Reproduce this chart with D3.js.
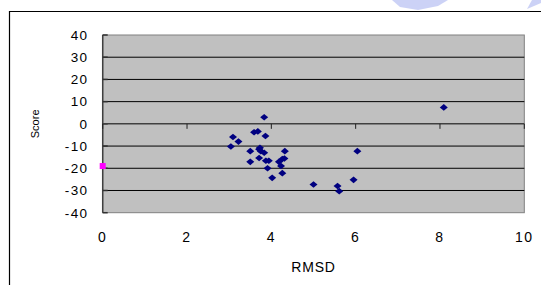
<!DOCTYPE html>
<html>
<head>
<meta charset="utf-8">
<script src="https://cdn.jsdelivr.net/npm/d3@7"></script>
<style>
  body { margin: 0; background: #fff; }
  text { font-family: "Liberation Sans", Arial, sans-serif; fill: #000; }
</style>
</head>
<body>
<div id="chart"></div>
<script>
// values
const rmsd = [3.83, 3.59, 3.68, 3.86, 3.09, 3.22, 3.04, 3.50, 3.71, 3.75,
              3.83, 3.71, 3.50, 3.87, 3.94, 4.32, 4.31, 4.26, 4.18, 4.23,
              3.91, 4.26, 4.02, 5.00, 5.57, 5.61, 5.95, 6.04, 8.09, 3.73];
const score = [3.0, -3.8, -3.4, -5.5, -5.9, -8.0, -10.2, -12.3, -11.4, -12.3,
               -13.0, -15.4, -17.1, -16.6, -16.6, -12.3, -15.6, -15.8, -17.1, -19.0,
               -20.0, -22.2, -24.3, -27.3, -28.0, -30.3, -25.2, -12.3, 7.4, -10.8];
const refX = [0];
const refY = [-19];
const xTicks = [0, 2, 4, 6, 8, 10];
const yTicks = [40, 30, 20, 10, 0, -10, -20, -30, -40];

const w = 541, h = 285;
const plotLeft = 102.7, plotRight = 524.3, plotTop = 35, plotBottom = 212.7;

const svg = d3.select('#chart').append('svg')
  .attr('width', w)
  .attr('height', h);

// outer chart frame (runs off the picture right and bottom)
svg.append('path')
  .attr('d', 'M9.5,' + (h + 5) + 'V11.5H' + (w + 5))
  .attr('fill', 'none')
  .attr('stroke', '#000')
  .attr('stroke-width', 1.2);

// faint watermark remnants at the top right
svg.append('path')
  .attr('d', 'M392,0 L400,7 L418,10 L438,6 L448,0 Z')
  .attr('fill', '#9aa6ee').attr('opacity', 0.5);
svg.append('path')
  .attr('d', 'M527,9 L541,3 L541,0 L532,0 Z')
  .attr('fill', '#9aa6ee').attr('opacity', 0.5);

const x = d3.scaleLinear().domain([0, 10]).range([plotLeft, plotRight]);
const y = d3.scaleLinear().domain([-40, 40]).range([plotBottom, plotTop]);

svg.append('rect')
  .attr('x', plotLeft).attr('y', plotTop)
  .attr('width', plotRight - plotLeft).attr('height', plotBottom - plotTop)
  .attr('fill', '#c0c0c0')
  .attr('stroke', '#808080')
  .attr('stroke-width', 1);

// horizontal gridlines
svg.selectAll('.grid')
  .data(yTicks.filter(d => d !== 40 && d !== -40 && d !== 0))
  .enter().append('line')
  .attr('x1', plotLeft).attr('x2', plotRight)
  .attr('y1', d => y(d)).attr('y2', d => y(d))
  .attr('stroke', '#000').attr('stroke-width', 1);

// y axis line and ticks
svg.append('line')
  .attr('x1', plotLeft).attr('x2', plotLeft).attr('y1', plotTop).attr('y2', plotBottom)
  .attr('stroke', '#404040').attr('stroke-width', 1.5);
svg.selectAll('.ytick')
  .data(yTicks)
  .enter().append('line')
  .attr('x1', plotLeft).attr('x2', plotLeft + 5)
  .attr('y1', d => y(d)).attr('y2', d => y(d))
  .attr('stroke', '#303030').attr('stroke-width', 1.5);

// x axis sits at score 0
svg.append('line')
  .attr('x1', plotLeft).attr('x2', plotRight).attr('y1', y(0)).attr('y2', y(0))
  .attr('stroke', '#404040').attr('stroke-width', 1.5);
svg.selectAll('.xtick')
  .data(xTicks)
  .enter().append('line')
  .attr('x1', d => x(d)).attr('x2', d => x(d))
  .attr('y1', y(0)).attr('y2', y(0) + 5)
  .attr('stroke', '#202020').attr('stroke-width', 1);

// tick labels
svg.selectAll('.ylab')
  .data(yTicks)
  .enter().append('text')
  .attr('x', 88.5).attr('y', d => y(d) + 4.8)
  .attr('text-anchor', 'end')
  .style('font-size', '13.5px')
  .style('letter-spacing', '1.4px')
  .text(d => d);

svg.selectAll('.xlab')
  .data(xTicks)
  .enter().append('text')
  .attr('x', d => x(d)).attr('y', 241.5)
  .attr('text-anchor', 'middle')
  .style('font-size', '14px')
  .style('letter-spacing', '1.5px')
  .text(d => d);

svg.append('text')
  .attr('x', (plotLeft + plotRight) / 2).attr('y', 271.5)
  .attr('text-anchor', 'middle')
  .style('font-size', '14px')
  .style('letter-spacing', '0.8px')
  .text('RMSD');

svg.append('text')
  .attr('transform', 'translate(39,' + y(0) + ') rotate(-90)')
  .attr('text-anchor', 'middle')
  .style('font-size', '11px')
  .text('Score');

// data points as diamonds
const pts = rmsd.map((r, i) => ({ r: r, s: score[i] }));
svg.selectAll('.dot')
  .data(pts)
  .enter().append('path')
  .attr('d', 'M0,-3.3 L4,0 L0,3.3 L-4,0 Z')
  .attr('transform', d => 'translate(' + x(d.r) + ',' + y(d.s) + ')')
  .attr('fill', '#000080');

// magenta reference marker
svg.selectAll('.ref')
  .data(refX.map((r, i) => ({ r: r, s: refY[i] })))
  .enter().append('rect')
  .attr('x', d => x(d.r) - 3).attr('y', d => y(d.s) - 3)
  .attr('width', 6).attr('height', 6)
  .attr('fill', '#ff00ff');
</script>
</body>
</html>
